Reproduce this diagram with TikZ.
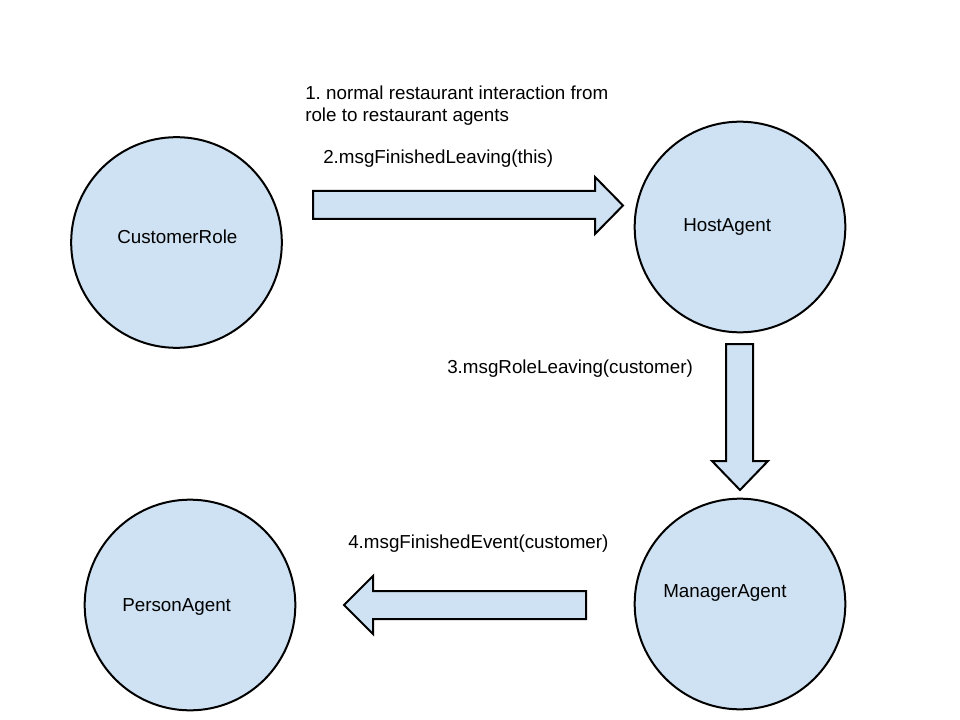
\documentclass[tikz,border=0pt]{standalone}
\usepackage{fontspec}
\setmainfont{Liberation Sans}
\frenchspacing
\definecolor{agentfill}{HTML}{CFE2F3}
\begin{document}
\begin{tikzpicture}[x=0.75pt,y=-0.75pt,
  agent/.style={circle,draw=black,line width=1.5pt,fill=agentfill,minimum size=158pt,inner sep=0pt},
  lbl/.style={font=\fontsize{14.1pt}{16.5pt}\selectfont,inner sep=0pt,anchor=base west,align=left},
  blockarrow/.style={draw=black,line width=1.5pt,fill=agentfill,line join=miter}]
\useasboundingbox (0,0) rectangle (960,720);
\node[agent] (cust) at (176.5,242.5) {};
\node[agent] (host) at (740,227) {};
\node[agent] (person) at (190,605) {};
\node[agent] (manager) at (740,604) {};
\node[lbl] (custl) at (117,244) {CustomerRole};
\node[lbl] (hostl) at (683,232) {HostAgent};
\node[lbl] (personl) at (122,611) {PersonAgent};
\node[lbl] (managerl) at (663,597) {ManagerAgent};
\node[lbl] (t1) at (305,100) {1. normal restaurant interaction from};
\node[lbl] (t1b) at (305,122) {role to restaurant agents};
\node[lbl] (t2) at (323,164) {2.msgFinishedLeaving(this)};
\node[lbl] (t3) at (447,373) {3.msgRoleLeaving(customer)};
\node[lbl] (t4) at (348,548) {4.msgFinishedEvent(customer)};
% block arrows
\draw[blockarrow] (313,191) -- (595,191) -- (595,177) -- (623,205.5) -- (595,234) -- (595,219) -- (313,219) -- cycle;
\draw[blockarrow] (726,344) -- (753,344) -- (753,461) -- (768,461) -- (740,490) -- (712,461) -- (726,461) -- cycle;
\draw[blockarrow] (586,591) -- (373,591) -- (373,576) -- (344,605) -- (373,634) -- (373,619) -- (586,619) -- cycle;
\end{tikzpicture}
\end{document}
